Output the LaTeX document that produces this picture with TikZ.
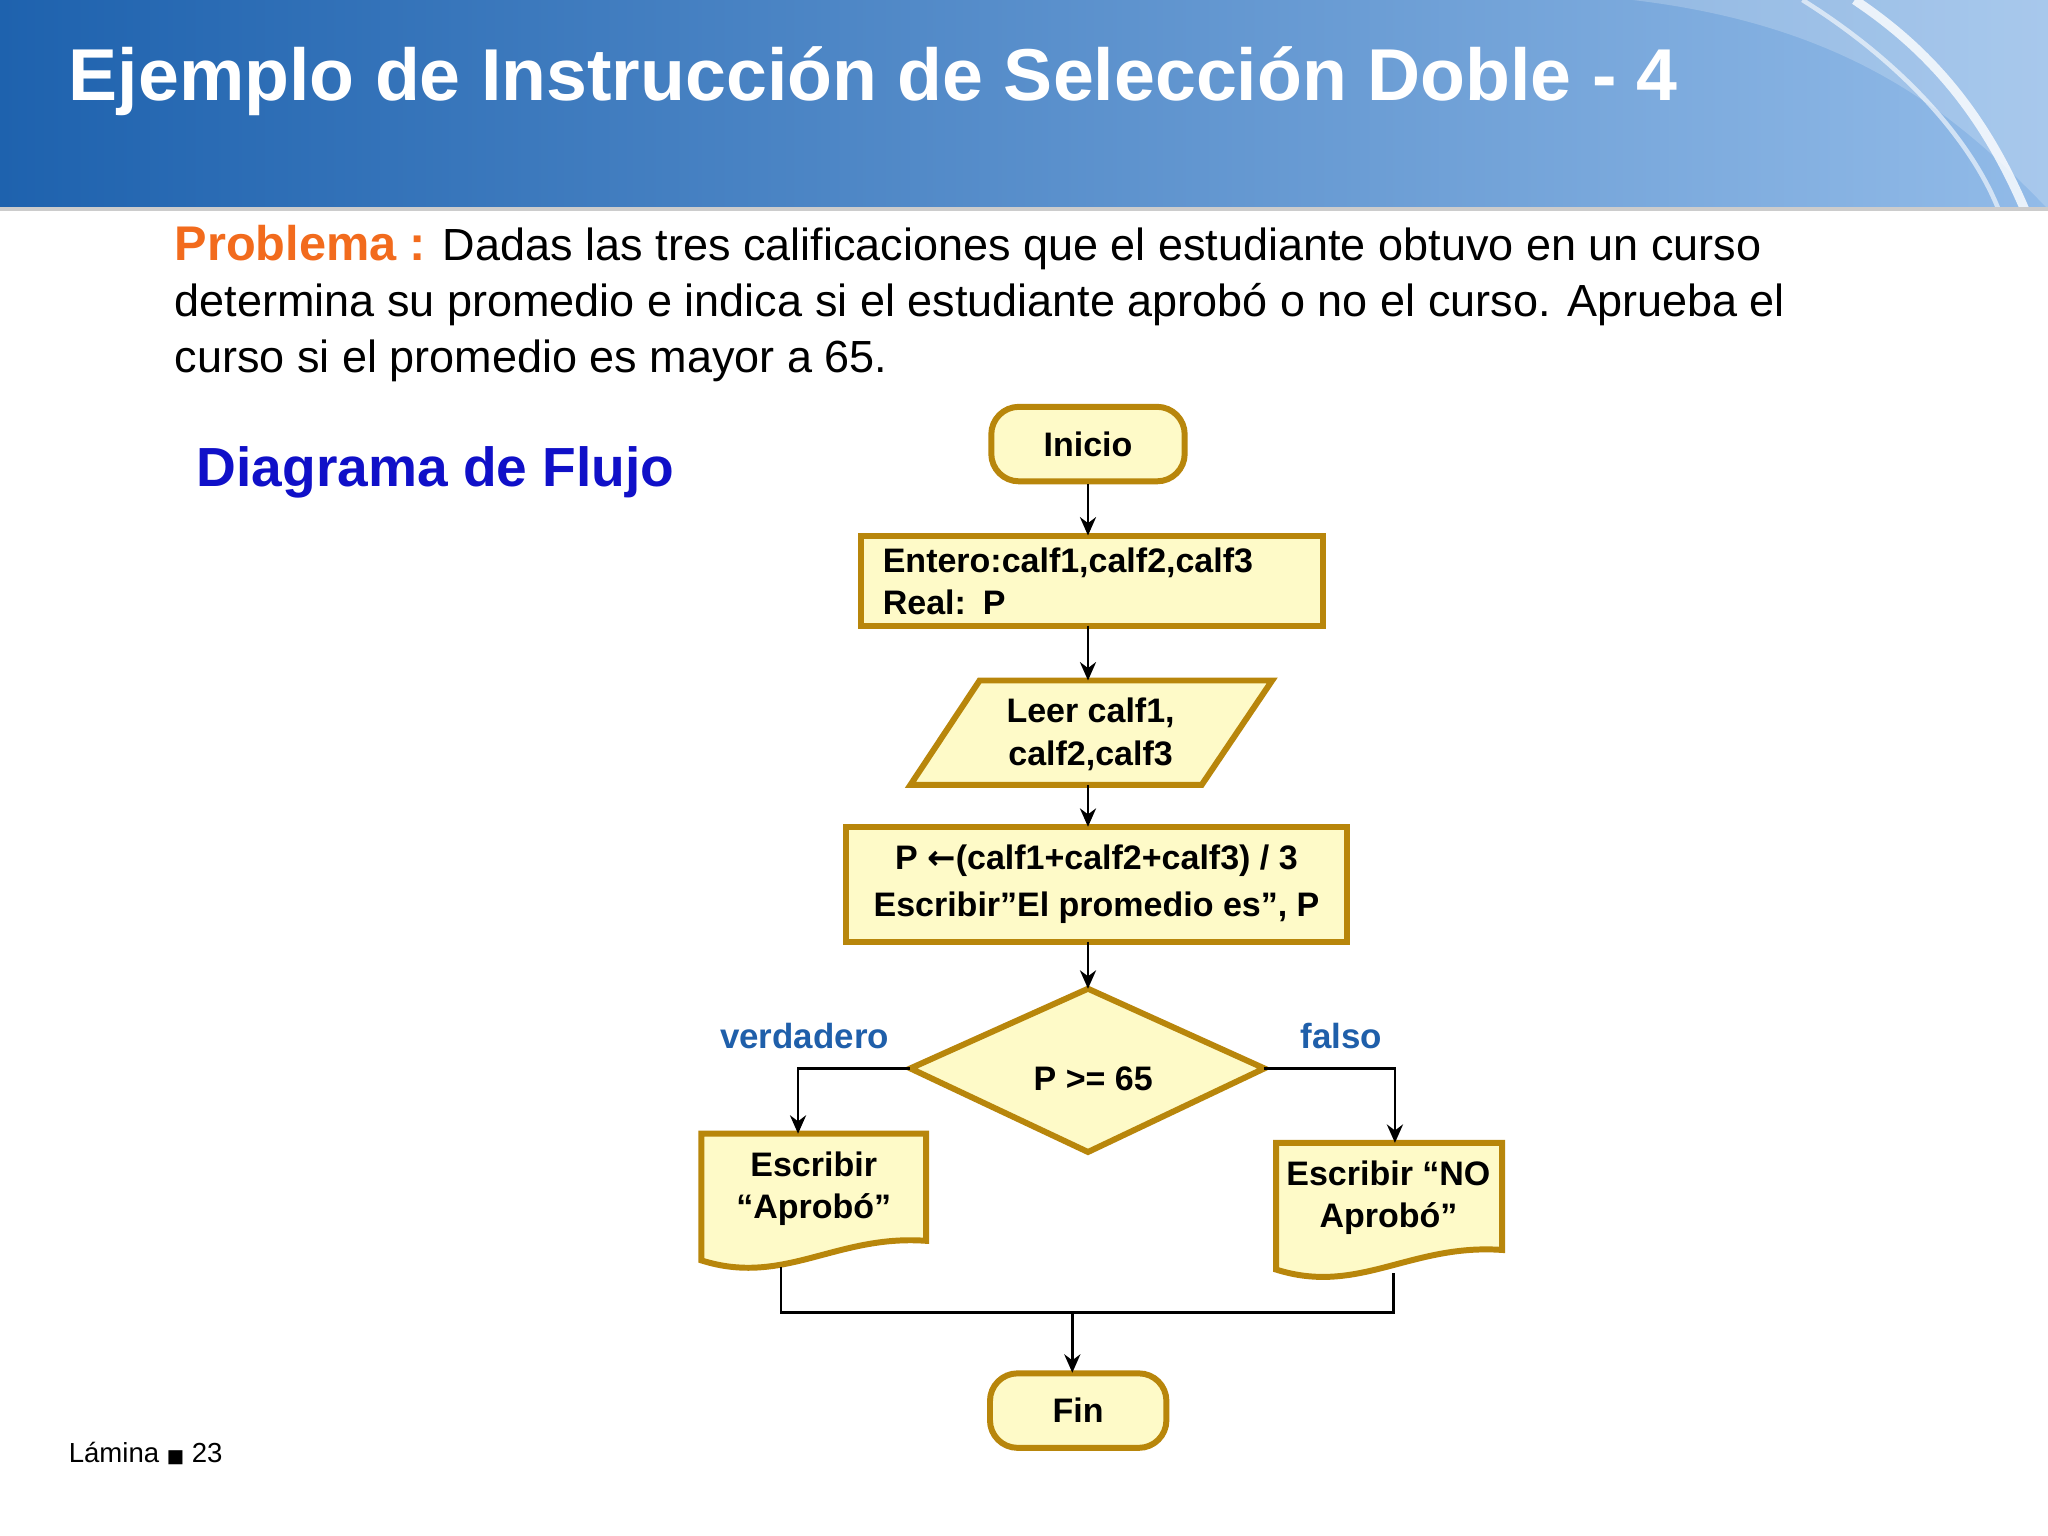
\documentclass[tikz,border=0pt]{standalone}
\usepackage{fontspec}
\setmainfont{Liberation Sans}
\newfontfamily\dejavu{DejaVu Sans}
\usetikzlibrary{shapes.geometric,arrows.meta}
\definecolor{fillY}{HTML}{FEFAC8}
\definecolor{edgeY}{HTML}{B8860B}
\definecolor{orangeP}{HTML}{F26B1D}
\definecolor{blueD}{HTML}{1010C8}
\definecolor{blueL}{HTML}{1F5FAA}
\definecolor{hdrL}{HTML}{1E62AE}
\definecolor{hdrR}{HTML}{92BBE8}
\tikzset{
  box/.style={draw=edgeY,fill=fillY,line width=1.3pt,font=\fontsize{7.4}{9.3}\selectfont\bfseries,align=center,inner sep=0pt},
  term/.style={box,rounded corners=6pt},
  conn/.style={line width=0.6pt,-{Stealth[length=4pt,width=3.5pt]}},
  lin/.style={line width=0.6pt},
  lbl/.style={text=blueL,font=\fontsize{7.6}{9}\selectfont\bfseries}
}
\begin{document}
\begin{tikzpicture}[x=0.01cm,y=-0.01cm]
\useasboundingbox (0,0) rectangle (1568,1176);
% header
\shade[left color=hdrL, right color=hdrR] (0,0) rectangle (1568,160);
\fill[white,opacity=0.2] (1250,0) .. controls (1420,20) and (1500,90) .. (1568,160) -- (1568,0) -- cycle;
\draw[white,line width=2pt,opacity=0.8] (1420,0) .. controls (1480,40) and (1520,90) .. (1550,160);
\draw[white,line width=1pt,opacity=0.6] (1380,0) .. controls (1460,50) and (1510,110) .. (1530,160);
\draw[gray!40,line width=1pt] (0,160) -- (1568,160);
\node[anchor=west,text=white,font=\fontsize{16}{18}\selectfont\bfseries,inner sep=0pt] (title) at (52,62) {Ejemplo de Instrucción de Selección Doble - 4};
% problem text
\node[anchor=north west,align=left,font=\fontsize{9.8}{12.1}\selectfont,inner sep=0pt] (prob) at (133,172)
 {{\color{orangeP}\bfseries\fontsize{10.6}{12}\selectfont Problema :} Dadas las tres calificaciones que el estudiante obtuvo en un curso\\
 determina su promedio e indica si el estudiante aprobó o no el curso. Aprueba el\\
 curso si el promedio es mayor a 65.};
\node[anchor=west,text=blueD,font=\fontsize{12}{14}\selectfont\bfseries,inner sep=0pt] (dtitle) at (150,362) {Diagrama de Flujo};
\node[anchor=west,font=\fontsize{6}{7}\selectfont,inner sep=0pt] (lam) at (52,1113) {Lámina {\dejavu\fontsize{4}{5}\selectfont■} 23};
% nodes
\node[term,minimum width=1.48cm,minimum height=0.57cm] (ini) at (833,340) {Inicio};
\node[box,minimum width=3.53cm,minimum height=0.69cm,align=left,text width=3.2cm] (ent) at (836,445) {Entero:calf1,calf2,calf3\\Real: P};
\draw[box] (697,601) -- (750,521) -- (974,521) -- (920,601) -- cycle;
\node[font=\fontsize{7.4}{9.3}\selectfont\bfseries,align=center] (leer) at (835,562) {Leer calf1,\\calf2,calf3};
\coordinate (leerT) at (833,521); \coordinate (leerB) at (833,601);
\node[box,minimum width=3.83cm,minimum height=0.88cm] (pbox) at (839.5,677) {P {\dejavu\bfseries ←}(calf1+calf2+calf3) / 3\\[1pt]Escribir”El promedio es”, P};
\draw[box] (697,818) -- (833,757) -- (968,818) -- (833,882) -- cycle;
\node[font=\fontsize{7.4}{9}\selectfont\bfseries] (dec) at (837,826) {P >= 65};
\coordinate (decT) at (833,757); \coordinate (decL) at (697,818); \coordinate (decR) at (968,818);
% documents
\draw[box] (537,868) -- (709,868) -- (709,950) .. controls (640,945) and (600,985) .. (537,965) -- cycle;
\node[font=\fontsize{7.4}{9.3}\selectfont\bfseries,align=center] (d1) at (623,910) {Escribir\\“Aprobó”};
\draw[box] (977,875) -- (1150,875) -- (1150,957) .. controls (1080,952) and (1040,992) .. (977,972) -- cycle;
\node[font=\fontsize{7.4}{9.3}\selectfont\bfseries,align=center] (d2) at (1063,917) {Escribir “NO\\Aprobó”};
\node[term,minimum width=1.35cm,minimum height=0.57cm] (fin) at (825.5,1080) {Fin};
% connectors
\draw[conn] (ini) -- (833,410);
\draw[conn] (833,479) -- (leerT);
\draw[conn] (leerB) -- (833,633);
\draw[conn] (833,721) -- (decT);
\coordinate (l1) at (611,818); \coordinate (l2) at (611,868);
\coordinate (r1) at (1068,818); \coordinate (r2) at (1068,875);
\draw[conn] (decL) -- (l1) -- (l2);
\draw[conn] (decR) -- (r1) -- (r2);
\coordinate (b1) at (598,970); \coordinate (b2) at (598,1005);
\coordinate (b3) at (1067,1005); \coordinate (b4) at (1067,975);
\draw[lin] (b1) -- (b2) -- (b3) -- (b4);
\coordinate (m) at (821,1005);
\draw[conn] (m) -- (821,1051);
\node[lbl] (v) at (616,793) {verdadero};
\node[lbl] (f) at (1027,793) {falso};
\end{tikzpicture}
\end{document}
